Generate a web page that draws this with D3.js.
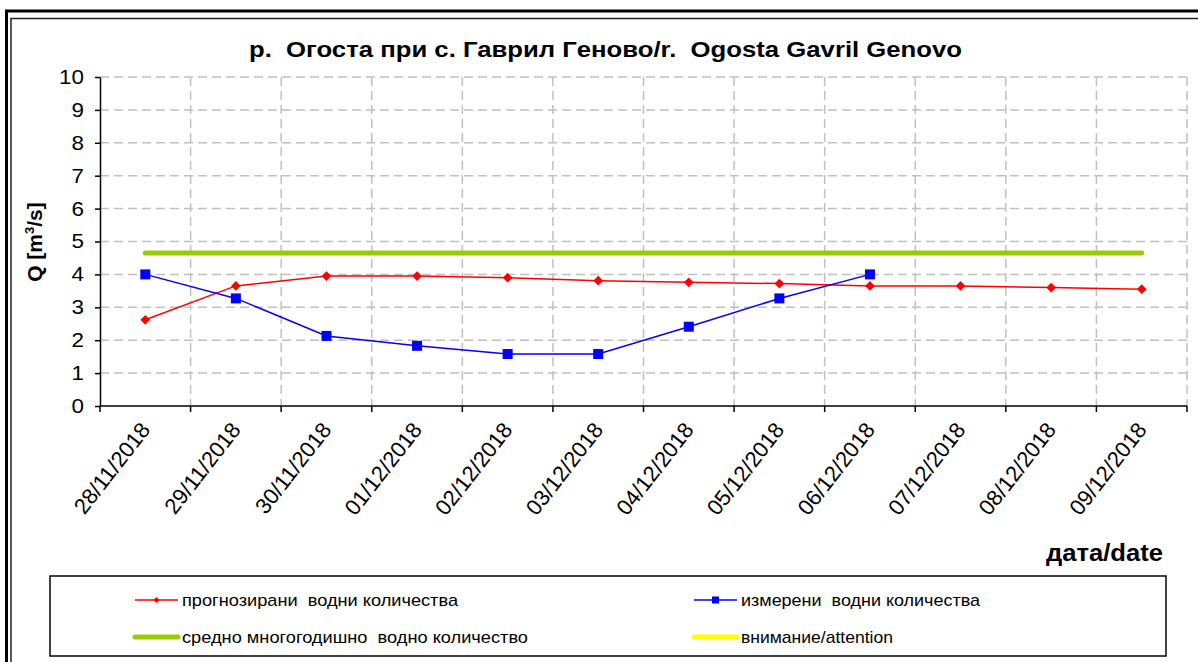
<!DOCTYPE html>
<html>
<head>
<meta charset="utf-8">
<script src="https://cdn.jsdelivr.net/npm/d3@7"></script>
<style>
  body { margin: 0; background: #fff; }
  svg { display: block; font-family: "Liberation Sans", Arial, sans-serif; }
</style>
</head>
<body>
<div id="vis"></div>
<script>
const WIDTH = 1198;
const HEIGHT = 662;
const MARGINS = {left: 100, right: 11, top: 77, bottom: 256};

// data
const dates = ["28/11/2018", "29/11/2018", "30/11/2018", "01/12/2018", "02/12/2018", "03/12/2018",
               "04/12/2018", "05/12/2018", "06/12/2018", "07/12/2018", "08/12/2018", "09/12/2018"];
const forecast = [2.62, 3.65, 3.95, 3.95, 3.9, 3.81, 3.76, 3.72, 3.65, 3.65, 3.6, 3.55];
const measured = [4.0, 3.27, 2.13, 1.83, 1.58, 1.58, 2.41, 3.27, 4.0, null, null, null];
const meanAnnual = [4.65, 4.65, 4.65, 4.65, 4.65, 4.65, 4.65, 4.65, 4.65, 4.65, 4.65, 4.65];
const attention = [null, null, null, null, null, null, null, null, null, null, null, null];
const yTicks = [0, 1, 2, 3, 4, 5, 6, 7, 8, 9, 10];

const VIS_WIDTH = WIDTH - MARGINS.left - MARGINS.right;
const VIS_HEIGHT = HEIGHT - MARGINS.top - MARGINS.bottom;

const svg = d3.select("#vis")
  .append("svg")
    .attr("width", WIDTH)
    .attr("height", HEIGHT);

// double frame round the chart
svg.append("path").attr("d", "M6.5,662 V11 H1198").attr("fill", "none")
  .attr("stroke", "#000").attr("stroke-width", 3);
svg.append("path").attr("d", "M11,662 V18.5 H1198").attr("fill", "none")
  .attr("stroke", "#222").attr("stroke-width", 1.5);

const X_SCALE = d3.scaleBand()
  .domain(dates)
  .range([MARGINS.left, MARGINS.left + VIS_WIDTH])
  .padding(0);

const Y_SCALE = d3.scaleLinear()
  .domain([0, 10])
  .range([MARGINS.top + VIS_HEIGHT, MARGINS.top]);

const cx = (d) => X_SCALE(d) + X_SCALE.bandwidth() / 2;

// gridlines
const grid = svg.append("g").attr("stroke", "#c0c0c0").attr("stroke-width", 1.5)
  .attr("stroke-dasharray", "9,5");
grid.selectAll("line.h")
  .data(yTicks.slice(1))
  .enter().append("line")
    .attr("x1", MARGINS.left).attr("x2", MARGINS.left + VIS_WIDTH)
    .attr("y1", (d) => Y_SCALE(d)).attr("y2", (d) => Y_SCALE(d));
grid.selectAll("line.v")
  .data(dates.slice(1).concat(["end"]))
  .enter().append("line")
    .attr("x1", (d) => d === "end" ? MARGINS.left + VIS_WIDTH : X_SCALE(d))
    .attr("x2", (d) => d === "end" ? MARGINS.left + VIS_WIDTH : X_SCALE(d))
    .attr("y1", Y_SCALE(10)).attr("y2", Y_SCALE(0));

// y axis
const yAxis = svg.append("g")
  .attr("transform", "translate(" + MARGINS.left + ",0)")
  .call(d3.axisLeft(Y_SCALE).tickValues(yTicks).tickSize(5).tickSizeOuter(0).tickPadding(11));
yAxis.selectAll("path, line").attr("stroke", "#000").attr("stroke-width", 1.5);
yAxis.selectAll("text").attr("font-size", "20px").attr("fill", "#000")
  .attr("font-family", "Liberation Sans, Arial, sans-serif")
  .attr("transform", "scale(1.12,1)")
  .attr("x", -16 / 1.12);

// x axis: ticks sit on the category boundaries
const xAxis = svg.append("g")
  .attr("transform", "translate(0," + Y_SCALE(0) + ")");
xAxis.append("line")
  .attr("x1", MARGINS.left).attr("x2", MARGINS.left + VIS_WIDTH)
  .attr("stroke", "#000").attr("stroke-width", 1.5);
xAxis.selectAll("line.tick")
  .data(dates.concat(["end"]))
  .enter().append("line")
    .attr("x1", (d) => d === "end" ? MARGINS.left + VIS_WIDTH : X_SCALE(d))
    .attr("x2", (d) => d === "end" ? MARGINS.left + VIS_WIDTH : X_SCALE(d))
    .attr("y1", 0).attr("y2", 6)
    .attr("stroke", "#000").attr("stroke-width", 1.5);
xAxis.selectAll("text")
  .data(dates)
  .enter().append("text")
    .attr("transform", (d) => "translate(" + (cx(d) + 6) + ",24) rotate(-52)")
    .attr("text-anchor", "end")
    .attr("font-size", "22px")
    .text((d) => d);

// mean annual water quantity
const line = d3.line()
  .defined((d) => d.v !== null)
  .x((d) => cx(d.date))
  .y((d) => Y_SCALE(d.v));

const toPts = (arr) => dates.map((date, i) => ({date: date, v: arr[i]}));

svg.append("path")
  .datum(toPts(meanAnnual))
  .attr("d", line)
  .attr("fill", "none").attr("stroke", "#99cc00").attr("stroke-width", 5)
  .attr("stroke-linecap", "round");

svg.append("path")
  .datum(toPts(attention))
  .attr("d", line)
  .attr("fill", "none").attr("stroke", "#ffff00").attr("stroke-width", 5);

// forecast
svg.append("path")
  .datum(toPts(forecast))
  .attr("d", line)
  .attr("fill", "none").attr("stroke", "#ff0000").attr("stroke-width", 1.5);
svg.selectAll("path.diamond")
  .data(toPts(forecast).filter((d) => d.v !== null))
  .enter().append("path")
    .attr("d", d3.symbol().type(d3.symbolDiamond2).size(60))
    .attr("transform", (d) => "translate(" + cx(d.date) + "," + Y_SCALE(d.v) + ")")
    .attr("fill", "#ff0000");

// measured
svg.append("path")
  .datum(toPts(measured))
  .attr("d", line)
  .attr("fill", "none").attr("stroke", "#0000ff").attr("stroke-width", 1.5);
svg.selectAll("rect.sq")
  .data(toPts(measured).filter((d) => d.v !== null))
  .enter().append("rect")
    .attr("x", (d) => cx(d.date) - 5)
    .attr("y", (d) => Y_SCALE(d.v) - 5)
    .attr("width", 10).attr("height", 10)
    .attr("fill", "#0000ff");

// titles
svg.append("text")
  .attr("x", 249).attr("y", 57)
  .attr("font-size", "22px").attr("font-weight", "bold")
  .attr("textLength", 713).attr("lengthAdjust", "spacingAndGlyphs")
  .style("white-space", "pre")
  .text("р.  Огоста при с. Гаврил Гeново/r.  Ogosta Gavril Genovo");

const yLab = svg.append("text")
  .attr("transform", "translate(42,242) rotate(-90)")
  .attr("text-anchor", "middle")
  .attr("font-size", "21px").attr("font-weight", "bold");
yLab.append("tspan").text("Q [m");
yLab.append("tspan").attr("dy", -8).attr("font-size", "13px").text("3");
yLab.append("tspan").attr("dy", 8).text("/s]");

svg.append("text")
  .attr("x", 1046).attr("y", 561)
  .attr("font-size", "23px").attr("font-weight", "bold")
  .attr("textLength", 117).attr("lengthAdjust", "spacingAndGlyphs")
  .text("дата/date");

// legend
svg.append("rect")
  .attr("x", 50).attr("y", 576).attr("width", 1116).attr("height", 80)
  .attr("fill", "none").attr("stroke", "#000").attr("stroke-width", 1.5);

const legendItems = [
  {label: "прогнозирани  водни количества", color: "#ff0000", w: 1.5, mark: "diamond", x: 135, y: 600, len: 276},
  {label: "измерени  водни количества", color: "#0000ff", w: 1.5, mark: "square", x: 694, y: 600, len: 239},
  {label: "средно многогодишно  водно количество", color: "#99cc00", w: 5, mark: null, x: 135, y: 637, len: 346},
  {label: "внимание/attention", color: "#ffff00", w: 5, mark: null, x: 694, y: 637, len: 152}
];

const leg = svg.selectAll("g.leg")
  .data(legendItems)
  .enter().append("g")
    .attr("transform", (d) => "translate(" + d.x + "," + d.y + ")");
leg.append("line")
  .attr("x1", 0).attr("x2", 43)
  .attr("stroke", (d) => d.color).attr("stroke-width", (d) => d.w)
  .attr("stroke-linecap", (d) => d.mark ? "butt" : "round");
leg.filter((d) => d.mark === "diamond").append("path")
  .attr("d", d3.symbol().type(d3.symbolDiamond2).size(24))
  .attr("transform", "translate(21.5,0)")
  .attr("fill", "#ff0000");
leg.filter((d) => d.mark === "square").append("rect")
  .attr("x", 18).attr("y", -3.5).attr("width", 7).attr("height", 7)
  .attr("fill", "#0000ff");
leg.append("text")
  .attr("x", 47).attr("y", 6)
  .attr("font-size", "17px")
  .attr("textLength", (d) => d.len).attr("lengthAdjust", "spacingAndGlyphs")
  .style("white-space", "pre")
  .text((d) => d.label);
</script>
</body>
</html>
